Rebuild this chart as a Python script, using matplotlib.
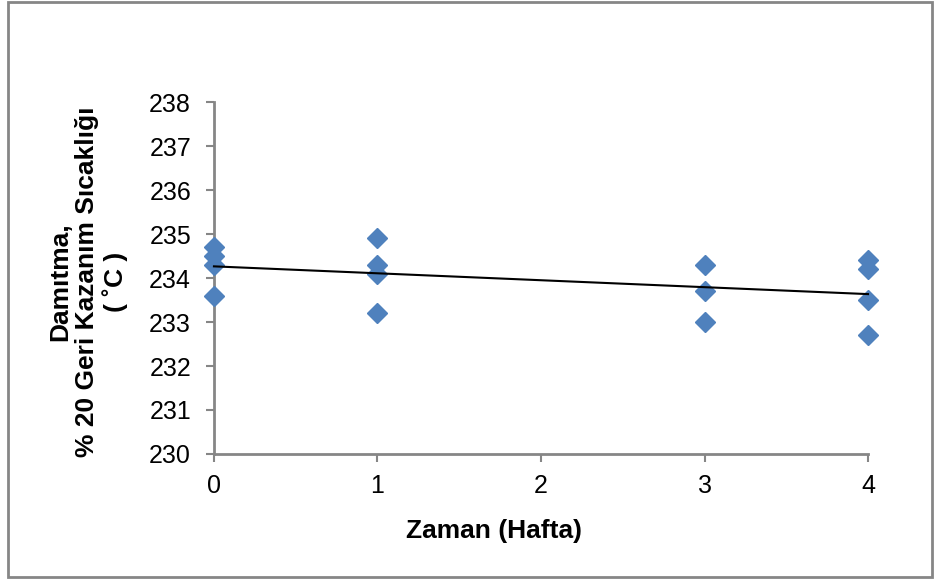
import numpy as np
import matplotlib
matplotlib.use("Agg")
import matplotlib.pyplot as plt
from matplotlib.patches import Rectangle

plt.rcParams["font.family"] = ["Liberation Sans", "DejaVu Sans"]

# measurements per week
weeks = [0, 0, 0, 0, 1, 1, 1, 1, 3, 3, 3, 4, 4, 4, 4]
temps = [234.7, 234.5, 234.3, 233.6,
         234.9, 234.3, 234.1, 233.2,
         234.3, 233.7, 233.0,
         234.4, 234.2, 233.5, 232.7]
x_ticks = [0, 1, 2, 3, 4]
y_ticks = [230, 231, 232, 233, 234, 235, 236, 237, 238]

axis_grey = "#868686"

fig = plt.figure(figsize=(9.38, 5.81), dpi=100)
ax = fig.add_axes([0.2281, 0.2186, 0.6973, 0.6058])

ax.plot(weeks, temps, linestyle="none", marker="D", markersize=10,
        color="#4F81BD", zorder=3, clip_on=False)

# linear trendline
slope, icept = np.polyfit(weeks, temps, 1)
xs = np.array([min(weeks), max(weeks)])
ax.plot(xs, slope * xs + icept, color="black", linewidth=1.5, zorder=4,
        clip_on=False)

ax.set_xlim(0, 4)
ax.set_ylim(230, 238)
ax.set_xticks(x_ticks)
ax.set_yticks(y_ticks)
ax.tick_params(labelsize=18, colors=axis_grey, labelcolor="black",
               length=5.5, width=1.5, direction="out")
ax.tick_params(axis="y", pad=11)
ax.tick_params(axis="x", pad=9)

for side in ["top", "right"]:
    ax.spines[side].set_visible(False)
for side in ["left", "bottom"]:
    ax.spines[side].set_color(axis_grey)
    ax.spines[side].set_linewidth(2)

# axis titles placed where the reference has them
fig.text(494 / 938, 1 - 531 / 581, "Zaman (Hafta)", fontsize=19,
         fontweight="bold", ha="center", va="center")
fig.text(88 / 938, 1 - 282 / 581, "Damıtma,\n% 20 Geri Kazanım Sıcaklığı\n( ˚C )",
         fontsize=19, fontweight="bold", rotation=90, ha="center", va="center",
         multialignment="center", linespacing=1.15)

# outer chart border
fig.patches.append(Rectangle((0.008, 0.007), 0.986, 0.99, transform=fig.transFigure,
                             fill=False, edgecolor=axis_grey, linewidth=2))

fig.savefig("out.png", dpi=100)
